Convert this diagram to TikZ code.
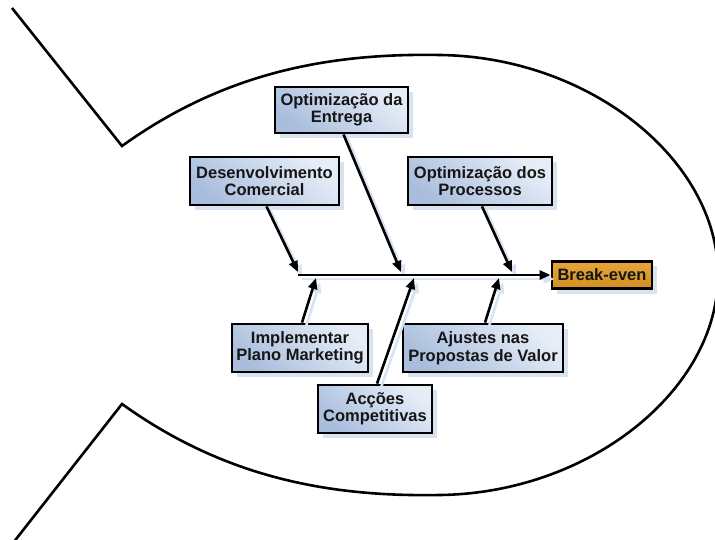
\documentclass[tikz,border=0pt]{standalone}
\usepackage{fontspec}
\setmainfont{Liberation Sans}
\usetikzlibrary{arrows.meta,shadows}
\definecolor{boxdark}{HTML}{A9BEDD}
\definecolor{boxlight}{HTML}{E6EDF7}
\definecolor{shadeblue}{HTML}{D8E3F2}
\definecolor{golddark}{HTML}{D38E1E}
\definecolor{goldlight}{HTML}{E6A63C}
\definecolor{ink}{HTML}{151515}

\begin{document}
\begin{tikzpicture}[x=1pt,y=-1pt,
  cause/.style={draw=black, line width=2.8pt, text=ink,
    top color=boxlight, bottom color=boxdark, shading angle=-40,
    drop shadow={shadow xshift=5pt, shadow yshift=-5pt, fill=shadeblue, opacity=1},
    font=\bfseries\fontsize{16.5}{17.5}\selectfont, align=center, inner sep=0pt},
  effect/.style={cause, top color=goldlight, bottom color=golddark},
  bone/.style={draw=black, line width=2.6pt, -{Triangle[length=11pt,width=9pt]}},
  boneshadow/.style={draw=shadeblue, line width=2.6pt, -{Triangle[length=11pt,width=9pt]}},
  fish/.style={draw=black, line width=2.6pt, line join=miter}]

\useasboundingbox (0,0) rectangle (715,540);

% fish outline: tail and body
\draw[fish] (12,8) -- (122,146)
  .. controls (225,72) and (330,53) .. (440,55)
  .. controls (590,57) and (718,160) .. (718,275)
  .. controls (718,390) and (590,493) .. (440,495)
  .. controls (330,497) and (225,478) .. (122,404) -- (13,543);

% causes and effect
\node[cause, minimum width=133pt, minimum height=46pt] (entrega) at (341.5,110) {Optimização da\\Entrega};
\node[cause, minimum width=149pt, minimum height=48pt] (desenv) at (264.5,181) {Desenvolvimento\\Comercial};
\node[cause, minimum width=144pt, minimum height=48pt] (process) at (480,181) {Optimização dos\\Processos};
\node[cause, minimum width=136pt, minimum height=48pt] (implem) at (300,348) {Implementar\\Plano Marketing};
\node[cause, minimum width=160pt, minimum height=48pt] (ajustes) at (483,348) {Ajustes nas\\Propostas de Valor};
\node[cause, minimum width=114pt, minimum height=48pt] (accoes) at (375,409) {Acções\\Competitivas};
\node[effect, minimum width=100pt, minimum height=27pt] (brk) at (602,275) {Break-even};

% points where the bones meet the spine
\coordinate (spine) at (298,275);
\coordinate (t1) at (298,272);
\coordinate (t2) at (401,272);
\coordinate (t3) at (512,272);
\coordinate (b1) at (316,278);
\coordinate (b2) at (414,278);
\coordinate (b3) at (499,278);

% soft shadow under the bones
\begin{scope}[transform canvas={shift={(4pt,-4pt)}}]
  \draw[boneshadow] (spine) -- (brk.west);
  \foreach \s/\e in {desenv.south/t1, entrega.south/t2, process.south/t3,
                     implem.north/b1, accoes.north/b2, ajustes.north/b3}
    \draw[boneshadow] ([xshift=2pt]\s) -- (\e);
\end{scope}

% spine and bones
\draw[bone] (spine) -- (brk.west);
\foreach \s/\e in {desenv.south/t1, entrega.south/t2, process.south/t3,
                   implem.north/b1, accoes.north/b2, ajustes.north/b3}
  \draw[bone] ([xshift=2pt]\s) -- (\e);

\end{tikzpicture}
\end{document}
